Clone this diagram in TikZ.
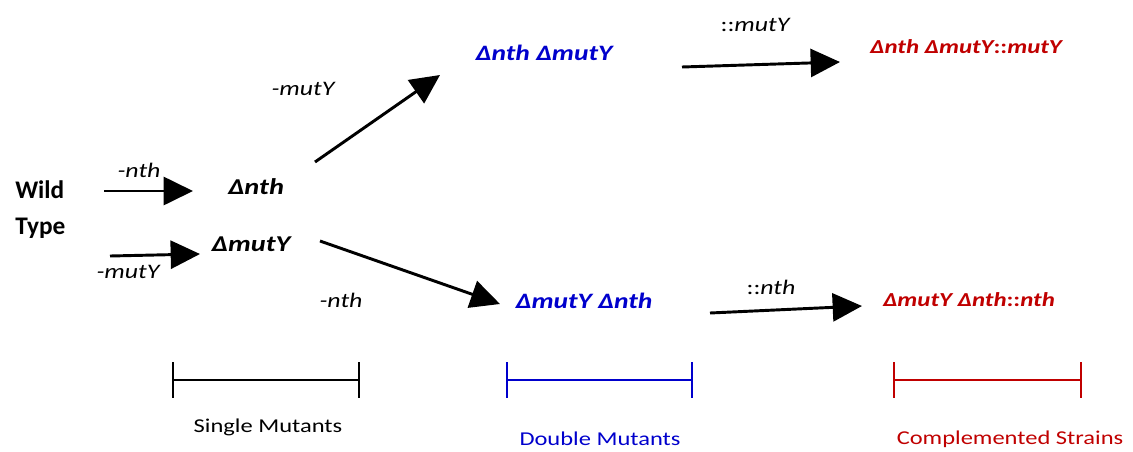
\documentclass[tikz,border=0pt]{standalone}
\usepackage{fontspec}
\setmainfont{Carlito}[FakeStretch=1.25]
\newfontfamily\plainfont{Carlito}
\usetikzlibrary{arrows.meta}
\definecolor{dblue}{RGB}{0,0,204}
\definecolor{dred}{RGB}{192,0,0}
\tikzset{
  px/.style={x=0.75pt,y=-0.75pt},
  bigarrow/.style={line width=2.2pt,-{Triangle[length=22pt,width=21pt]}},
  strain/.style={font=\fontsize{17}{20}\selectfont\bfseries\itshape,inner sep=0pt},
  dbl/.style={font=\fontsize{16.5}{20}\selectfont\bfseries\itshape,inner sep=0pt,text=dblue},
  comp/.style={font=\fontsize{14.9}{18}\selectfont\bfseries\itshape,inner sep=0pt,text=dred},
  lbl/.style={font=\fontsize{15.5}{18}\selectfont\itshape,inner sep=0pt},
  grp/.style={font=\fontsize{14.7}{17}\selectfont,inner sep=0pt},
  bracket/.style={line width=2pt}
}
\begin{document}
\begin{tikzpicture}[px]
\useasboundingbox (0,0) rectangle (1133,451);
% left
\node[font=\plainfont\fontsize{19}{27}\selectfont\bfseries,align=left,anchor=west,inner sep=0pt] (wt) at (15,210) {Wild\\Type};
\coordinate (a1s) at (104,191);
\node[strain] (nth) at (256,187) {Δnth};
\node[strain] (mut) at (251,244) {ΔmutY};
\coordinate (a2s) at (110,256);
\draw[bigarrow] (a1s) -- (193,191) coordinate (a1e);
\draw[bigarrow] (a2s) -- (200,254) coordinate (a2e);
\node[lbl] (l1) at (139,170) {-nth};
\node[lbl] (l2) at (128,272) {-mutY};
% upper branch
\node[dbl] (dm1) at (544,53) {Δnth ΔmutY};
\coordinate (u0) at (315,162);
\draw[bigarrow] (u0) -- (440,75);
\node[lbl] (l3) at (303,89) {-mutY};
\coordinate (u1) at (682,67);
\draw[bigarrow] (u1) -- (840,62);
\node[lbl] (l4) at (755,25) {{\upshape ::}mutY};
\node[comp] (cs1) at (966,47) {Δnth ΔmutY{\upshape ::}mutY};
% lower branch
\node[dbl] (dm2) at (584,301) {ΔmutY Δnth};
\coordinate (d0) at (320,241);
\draw[bigarrow] (d0) -- (500,304);
\node[lbl] (l5) at (341,300) {-nth};
\coordinate (d1) at (710,313);
\draw[bigarrow] (d1) -- (862,306);
\node[lbl] (l6) at (771,287) {{\upshape ::}nth};
\node[comp] (cs2) at (969,300) {ΔmutY Δnth{\upshape ::}nth};
% brackets
\draw[bracket] (173,380) coordinate (b1l) -- (359,380) coordinate (b1r);
\draw[bracket] (173,362) -- (173,398) (359,362) -- (359,398);
\draw[bracket,dblue] (507,380) coordinate (b2l) -- (692,380) coordinate (b2r);
\draw[bracket,dblue] (507,362) -- (507,398) (692,362) -- (692,398);
\draw[bracket,dred] (894,380) coordinate (b3l) -- (1081,380) coordinate (b3r);
\draw[bracket,dred] (894,362) -- (894,398) (1081,362) -- (1081,398);
\node[grp] (g1) at (268,427) {Single Mutants};
\node[grp,text=dblue] (g2) at (600,439) {Double Mutants};
\node[grp,text=dred] (g3) at (1010,439) {Complemented Strains};
\end{tikzpicture}
\end{document}
